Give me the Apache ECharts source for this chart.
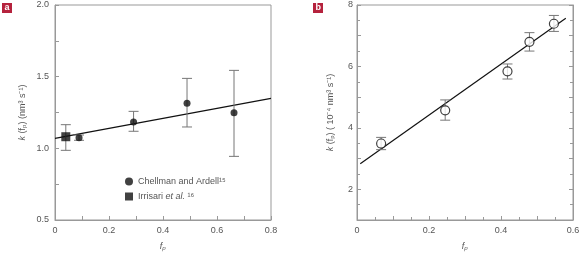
<!DOCTYPE html>
<html>
<head>
<meta charset="utf-8">
<script src="https://cdn.jsdelivr.net/npm/echarts@6/dist/echarts.min.js"></script>
<style>
  html, body { margin: 0; padding: 0; background: #fff; }
  #chart { width: 580px; height: 254px; }
</style>
</head>
<body>
<div id="chart"></div>
<script>
// panel a: Chellman and Ardell (circles) + Irrisari et al. (square)
const chellmanX = [0.089, 0.291, 0.489, 0.663];
const chellmanY = [1.074, 1.184, 1.314, 1.249];
const chellmanLo = [1.056, 1.119, 1.149, 0.944];
const chellmanHi = [1.093, 1.258, 1.488, 1.544];
const irrisariX = [0.04];
const irrisariY = [1.081];
const irrisariLo = [0.986];
const irrisariHi = [1.165];
const fitAX = [0, 0.8];
const fitAY = [1.07, 1.349];

// panel b
const bX = [0.067, 0.245, 0.418, 0.479, 0.547];
const bY = [3.49, 4.57, 5.84, 6.8, 7.39];
const bLo = [3.29, 4.25, 5.59, 6.5, 7.14];
const bHi = [3.69, 4.91, 6.08, 7.1, 7.66];
const fitBX = [0.009, 0.58];
const fitBY = [2.83, 7.57];

const zip = (...cols) => cols[0].map((_, i) => cols.map((c) => c[i]));

const font = 'Liberation Sans';
const grey = '#999';
const labelColor = '#555';

function errorBar(params, api) {
  const x = api.value(0);
  const lo = api.coord([x, api.value(1)]);
  const hi = api.coord([x, api.value(2)]);
  const w = 5;
  const style = { stroke: '#777', lineWidth: 1 };
  return {
    type: 'group',
    children: [
      { type: 'line', shape: { x1: lo[0], y1: lo[1], x2: hi[0], y2: hi[1] }, style },
      { type: 'line', shape: { x1: lo[0] - w, y1: lo[1], x2: lo[0] + w, y2: lo[1] }, style },
      { type: 'line', shape: { x1: hi[0] - w, y1: hi[1], x2: hi[0] + w, y2: hi[1] }, style },
    ],
  };
}

function numAxis(extra) {
  return Object.assign({
    type: 'value',
    axisLine: { show: true, lineStyle: { color: grey } },
    axisTick: { show: true, inside: true, length: 4, lineStyle: { color: grey } },
    splitLine: { show: false },
    axisLabel: { color: labelColor, fontFamily: font, fontSize: 9, margin: 8 },
    nameTextStyle: { color: labelColor, fontFamily: font, fontSize: 9 },
  }, extra);
}

const chart = echarts.init(document.getElementById('chart'));
chart.setOption({
  animation: false,
  grid: [
    { left: 55, right: 309, top: 5, bottom: 34, show: true, borderColor: grey, borderWidth: 1, outerBoundsMode: 'none' },
    { left: 357, right: 7, top: 5, bottom: 34, show: true, borderColor: grey, borderWidth: 1, outerBoundsMode: 'none' },
  ],
  xAxis: [
    numAxis({
      gridIndex: 0, min: 0, max: 0.8, interval: 0.1,
      axisLabel: { color: labelColor, fontFamily: font, fontSize: 9, margin: 6,
        formatter: (v) => (Math.round(v * 10) % 2 === 0 ? (v === 0 ? '0' : v.toFixed(1)) : '') },
      name: 'fₚ', nameLocation: 'middle', nameGap: 22,
      nameTextStyle: { color: labelColor, fontFamily: font, fontSize: 9, fontStyle: 'italic' },
    }),
    numAxis({
      gridIndex: 1, min: 0, max: 0.6, interval: 0.1,
      minorTick: { show: true, splitNumber: 2, length: 3, lineStyle: { color: grey } },
      axisLabel: { color: labelColor, fontFamily: font, fontSize: 9, margin: 6,
        formatter: (v) => (Math.round(v * 10) % 2 === 0 ? (v === 0 ? '0' : v.toFixed(1)) : '') },
      name: 'fₚ', nameLocation: 'middle', nameGap: 22,
      nameTextStyle: { color: labelColor, fontFamily: font, fontSize: 9, fontStyle: 'italic' },
    }),
  ],
  yAxis: [
    numAxis({
      gridIndex: 0, min: 0.5, max: 2.0, interval: 0.25,
      axisLabel: { color: labelColor, fontFamily: font, fontSize: 9, margin: 6,
        formatter: (v) => (Math.round(v * 100) % 50 === 0 ? v.toFixed(1) : '') },
      name: '{i|k} (f{sub|p}) (nm³ s⁻¹)', nameLocation: 'middle', nameRotate: 90, nameGap: 28,
      nameTextStyle: { color: labelColor, fontFamily: font, fontSize: 9,
        rich: { i: { fontStyle: 'italic', fontFamily: font, fontSize: 9, color: labelColor },
          sub: { fontSize: 6, fontFamily: font, color: labelColor, verticalAlign: 'bottom' } } },
    }),
    numAxis({
      gridIndex: 1, min: 1, max: 8, interval: 1,
      minorTick: { show: true, splitNumber: 2, length: 3, lineStyle: { color: grey } },
      axisLabel: { color: labelColor, fontFamily: font, fontSize: 9, margin: 4,
        formatter: (v) => (v % 2 === 0 ? String(v) : '') },
      name: '{i|k} (f{sub|p}) ( 10⁻⁴ nm³ s⁻¹)', nameLocation: 'middle', nameRotate: 90, nameGap: 22,
      nameTextStyle: { color: labelColor, fontFamily: font, fontSize: 9,
        rich: { i: { fontStyle: 'italic', fontFamily: font, fontSize: 9, color: labelColor },
          sub: { fontSize: 6, fontFamily: font, color: labelColor, verticalAlign: 'bottom' } } },
    }),
    numAxis({
      gridIndex: 1, min: 1, max: 8, interval: 1, position: 'right',
      minorTick: { show: true, splitNumber: 2, length: 3, lineStyle: { color: grey } },
      axisLabel: { show: false },
    }),
  ],
  legend: {
    orient: 'vertical',
    left: 120,
    top: 172,
    itemWidth: 8,
    itemHeight: 8,
    itemGap: 6,
    data: [
      { name: 'Chellman', icon: 'circle' },
      { name: 'Irrisari', icon: 'rect' },
    ],
    formatter: (n) => (n === 'Chellman' ? 'Chellman and Ardell¹⁵' : 'Irrisari {i|et al.} ¹⁶'),
    textStyle: { color: labelColor, fontFamily: font, fontSize: 9,
      rich: { i: { fontStyle: 'italic', fontFamily: font, fontSize: 9, color: labelColor } } },
  },
  graphic: [
    { type: 'rect', left: 2, top: 3, shape: { width: 10, height: 10 }, style: { fill: '#b5223d' } },
    { type: 'text', left: 4.5, top: 3.5, style: { text: 'a', fill: '#fff', font: 'bold 9px Liberation Sans' } },
    { type: 'rect', left: 313, top: 3, shape: { width: 10, height: 10 }, style: { fill: '#b5223d' } },
    { type: 'text', left: 315.5, top: 3, style: { text: 'b', fill: '#fff', font: 'bold 9px Liberation Sans' } },
  ],
  series: [
    {
      type: 'line', xAxisIndex: 0, yAxisIndex: 0, data: zip(fitAX, fitAY),
      symbol: 'none', lineStyle: { color: '#111', width: 1.2 }, z: 2,
    },
    {
      type: 'custom', xAxisIndex: 0, yAxisIndex: 0, renderItem: errorBar,
      data: zip(chellmanX, chellmanLo, chellmanHi).concat(zip(irrisariX, irrisariLo, irrisariHi)), z: 3,
    },
    {
      name: 'Chellman', type: 'scatter', xAxisIndex: 0, yAxisIndex: 0, data: zip(chellmanX, chellmanY),
      symbol: 'circle', symbolSize: 7, itemStyle: { color: '#111' }, z: 4,
    },
    {
      name: 'Irrisari', type: 'scatter', xAxisIndex: 0, yAxisIndex: 0, data: zip(irrisariX, irrisariY),
      symbol: 'rect', symbolSize: 9, itemStyle: { color: '#111' }, z: 4,
    },
    {
      type: 'line', xAxisIndex: 1, yAxisIndex: 1, data: zip(fitBX, fitBY),
      symbol: 'none', lineStyle: { color: '#111', width: 1.2 }, z: 2,
    },
    {
      type: 'custom', xAxisIndex: 1, yAxisIndex: 1, renderItem: errorBar,
      data: zip(bX, bLo, bHi), z: 3,
    },
    {
      type: 'scatter', xAxisIndex: 1, yAxisIndex: 1, data: zip(bX, bY),
      symbol: 'circle', symbolSize: 9,
      itemStyle: { color: '#fff', borderColor: '#111', borderWidth: 1.2 }, z: 4,
    },
  ],
});
</script>
</body>
</html>
